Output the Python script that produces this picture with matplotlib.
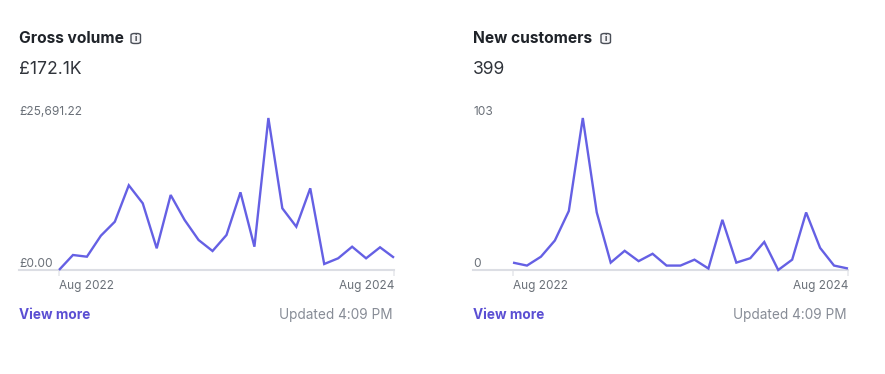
import numpy as np
import matplotlib.pyplot as plt
from matplotlib.patches import FancyBboxPatch

plt.rcParams['font.family'] = ['Inter', 'DejaVu Sans']

W, H = 885, 374

# Values (monthly, Aug 2022 - Aug 2024)
gross_volume = [0, 2535, 2248, 5797, 8163, 14315, 11273, 3667, 12675, 8450,
                5070, 3211, 5915, 13131, 3938, 25691.22, 10427, 7318, 13807,
                1014, 1977, 3938, 1977, 3836, 2079]
new_customers = [5, 3, 9, 20, 40, 103, 39, 5, 13, 6, 11, 3, 3, 7, 1, 34, 5, 8,
                 19, 0, 7, 39, 15, 3, 1]

titles = ['Gross volume', 'New customers']
totals = ['£172.1K', '399']
y_labels = [('£0.00', '£25,691.22'), ('0', '103')]
x_labels = ['Aug 2022', 'Aug 2024']
link_text = 'View more'
updated_text = 'Updated 4:09 PM'

DARK = '#1f2329'
TOTAL = '#30343b'
MUTED = '#6a7078'
LIGHT = '#878c96'
PURPLE = '#5b4fd3'
LINE = '#6560e4'
AXIS = '#dcdee4'

fig = plt.figure(figsize=(W / 100, H / 100), dpi=100, facecolor='white')


def px(x, y):
    return x / W, 1 - y / H


def draw_card(left, data, title, total, ylabs, icon_x):
    right = left + 375
    x0 = left + 40
    x1 = right

    ax = fig.add_axes([left / W, 1 - 270 / H, 375 / W, 152 / H])
    ax.patch.set_alpha(0)
    idx = np.arange(len(data))
    # index 0 sits 40px into the axes, the last index on the right edge
    step = (x1 - x0) / (len(data) - 1)
    ax.set_xlim(-40 / step, len(data) - 1)
    ax.set_ylim(0, max(data))
    ax.plot(idx, data, color=LINE, lw=1.7, solid_joinstyle='miter',
            solid_capstyle='butt', clip_on=False, zorder=3)

    for s in ['top', 'right', 'left']:
        ax.spines[s].set_visible(False)
    ax.spines['bottom'].set_color(AXIS)
    ax.spines['bottom'].set_linewidth(1.5)
    ax.set_yticks([])
    ax.set_xticks([0, len(data) - 1])
    ax.set_xticklabels(x_labels, fontsize=8.5, color=MUTED)
    ax.tick_params(axis='x', length=4, width=1.1, color='#e6e7eb', pad=3.5)
    ax.get_xticklabels()[0].set_ha('left')
    ax.get_xticklabels()[1].set_ha('right')

    for val, lab in zip([0, max(data)], ylabs):
        ax.annotate(lab, xy=(0, val), xycoords=ax.get_yaxis_transform(),
                    xytext=(0, 4.5), textcoords='offset points',
                    ha='left', va='center', fontsize=8.6, color=MUTED)

    fig.text(*px(left, 38.8), title, fontsize=11.2, fontweight='bold', color=DARK,
             ha='left', va='center')
    fig.text(*px(left, 69), total, fontsize=12.6, color=TOTAL, ha='left', va='center')
    fig.text(*px(left, 315), link_text, fontsize=9.8, fontweight='bold', color=PURPLE,
             ha='left', va='center')
    fig.text(*px(right - 1, 315), updated_text, fontsize=9.8, color=LIGHT,
             ha='right', va='center')

    # small info icon next to the title
    bx, by = px(icon_x, 43.5)
    fig.add_artist(FancyBboxPatch((bx, by), 9.5 / W, 10 / H,
                                  boxstyle='round,pad=0,rounding_size=0.004',
                                  transform=fig.transFigure, fc='#f4f4f6',
                                  ec='#4a4e57', lw=1))
    fig.text(*px(icon_x + 4.8, 38.5), 'i', fontsize=6, fontweight='bold', color='#30343b',
             ha='center', va='center')


draw_card(19, gross_volume, titles[0], totals[0], y_labels[0], 131)
draw_card(473, new_customers, titles[1], totals[1], y_labels[1], 601)

fig.savefig('out.png', dpi=100)
